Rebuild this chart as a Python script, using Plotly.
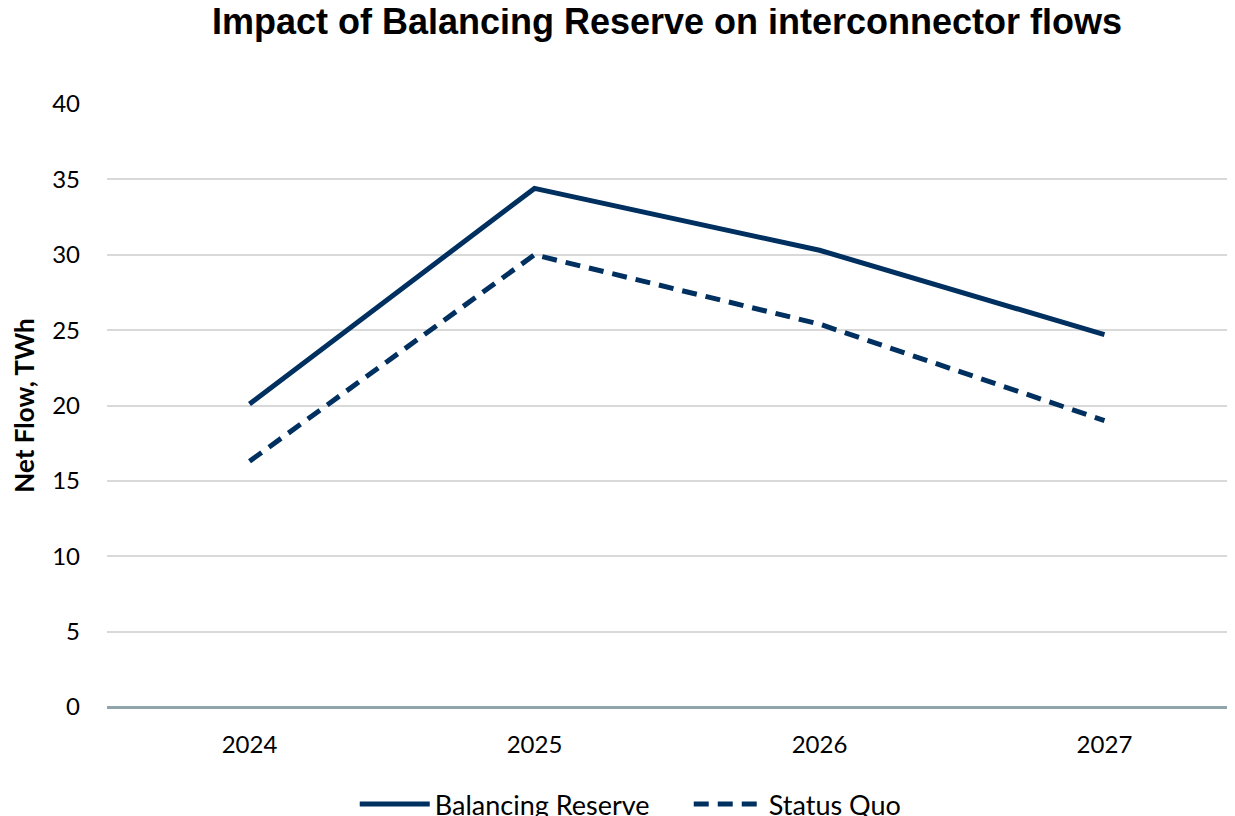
import plotly.graph_objects as go

years = ["2024", "2025", "2026", "2027"]
balancing_reserve = [20.1, 34.4, 30.3, 24.7]
status_quo = [16.3, 30.0, 25.4, 19.0]
y_ticks = [0, 5, 10, 15, 20, 25, 30, 35, 40]

navy = "#00305f"

fig = go.Figure()
fig.add_trace(go.Scatter(x=years, y=balancing_reserve, mode="lines", name="Balancing Reserve",
                         line=dict(color=navy, width=5)))
fig.add_trace(go.Scatter(x=years, y=status_quo, mode="lines", name="Status Quo",
                         line=dict(color=navy, width=5, dash="15px,9px")))

fig.update_layout(
    width=1219, height=808,
    paper_bgcolor="white", plot_bgcolor="white",
    margin=dict(l=99, r=0, t=96, b=109, autoexpand=False),
    title=dict(text="<b>Impact of Balancing Reserve on interconnector flows</b>",
               x=0.5406, xanchor="center", y=0.999, yanchor="top", pad=dict(t=0, b=0),
               font=dict(family="Liberation Sans, Arial", size=36, color="black")),
    font=dict(family="Lato, Open Sans", size=24, color="black"),
    legend=dict(orientation="h", x=0.2212, xanchor="left", y=-0.121, yanchor="top",
                font=dict(family="Lato", size=27, color="black"),
                itemwidth=70, entrywidth=249, entrywidthmode="pixels",
                traceorder="normal"),
    showlegend=True,
)
fig.update_xaxes(type="category", range=[-0.5, 3.43], showgrid=False, showline=False,
                 ticks="", ticklabelstandoff=21, tickfont=dict(family="Lato", size=24))
fig.update_yaxes(range=[0, 40], tickvals=y_ticks, showgrid=True, gridcolor="#d9d9d9", gridwidth=1.5,
                 zeroline=True, zerolinecolor="#8fa5ab", zerolinewidth=3,
                 ticks="", ticklabelstandoff=26, tickfont=dict(family="Lato", size=24),
                 title=dict(text="<b>Net Flow, TWh</b>", standoff=12,
                            font=dict(family="Lato", size=26, color="black")))

fig.write_html("out.html")
